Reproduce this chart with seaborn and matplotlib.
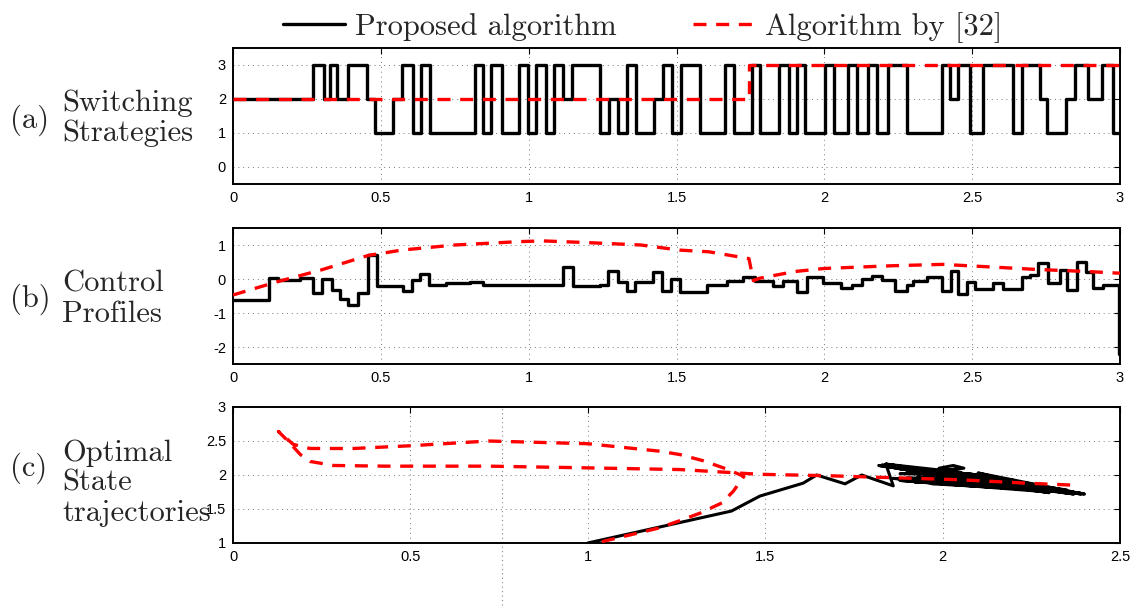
import numpy as np
import pandas as pd
import seaborn as sns
import matplotlib
matplotlib.use("Agg")
import matplotlib.pyplot as plt
from matplotlib.lines import Line2D
from matplotlib.ticker import FuncFormatter

# ---------------- data ----------------
# (a) switching strategies: switch times and active mode
sw_t = [0.000, 0.270, 0.308, 0.328, 0.353, 0.389, 0.454, 0.481, 0.542, 0.572,
        0.608, 0.635, 0.666, 0.817, 0.847, 0.871, 0.910, 0.968, 0.999, 1.025,
        1.059, 1.086, 1.117, 1.145, 1.241, 1.273, 1.303, 1.331, 1.363, 1.424,
        1.453, 1.484, 1.514, 1.579, 1.664, 1.696, 1.754, 1.784, 1.848, 1.880,
        1.906, 1.936, 2.002, 2.032, 2.081, 2.109, 2.148, 2.177, 2.216, 2.278,
        2.397, 2.425, 2.453, 2.492, 2.537, 2.639, 2.667, 2.729, 2.752, 2.819,
        2.847, 2.893, 2.938, 2.977]
sw_m = [2, 3, 2, 3, 2, 3, 2, 1, 2, 3,
        1, 3, 1, 3, 1, 3, 1, 3, 1, 3,
        1, 3, 2, 3, 1, 2, 1, 3, 1, 2,
        3, 1, 3, 1, 3, 1, 3, 1, 3, 1,
        3, 1, 3, 1, 3, 1, 3, 1, 3, 1,
        3, 2, 3, 1, 3, 1, 3, 2, 1, 2,
        3, 2, 3, 1]
sw_ref_t = [0.000, 1.746]
sw_ref_m = [2, 3]

# (b) control profiles
ctl_t = [0.000, 0.123, 0.153, 0.227, 0.270, 0.300, 0.334, 0.362, 0.390, 0.424,
         0.458, 0.486, 0.574, 0.604, 0.632, 0.664, 0.720, 0.800, 0.847, 1.117,
         1.151, 1.241, 1.269, 1.303, 1.331, 1.360, 1.421, 1.450, 1.480, 1.512,
         1.602, 1.670, 1.726, 1.765, 1.827, 1.861, 1.906, 1.940, 1.996, 2.058,
         2.092, 2.126, 2.160, 2.194, 2.239, 2.278, 2.301, 2.346, 2.397, 2.430,
         2.453, 2.481, 2.509, 2.571, 2.605, 2.667, 2.695, 2.723, 2.757, 2.797,
         2.822, 2.853, 2.885, 2.907, 2.943, 2.996]
ctl_u = [-0.62, 0.03, -0.04, 0.02, -0.40, 0.00, -0.33, -0.60, -0.75, -0.40,
         0.70, -0.20, -0.35, -0.02, 0.15, -0.17, -0.12, -0.08, -0.18, 0.35,
         -0.20, -0.17, 0.25, -0.10, -0.35, -0.10, 0.22, -0.35, 0.00, -0.37,
         -0.18, -0.06, 0.07, -0.05, -0.20, -0.06, -0.37, 0.07, -0.13, -0.27,
         -0.18, 0.00, 0.09, -0.03, -0.34, -0.18, -0.06, 0.05, -0.34, 0.24,
         -0.44, -0.08, -0.30, -0.13, -0.30, 0.07, 0.12, 0.46, -0.13, 0.26,
         -0.32, 0.51, 0.22, -0.27, -0.18, -2.20]
ctl_ref_t = [0.00, 0.15, 0.30, 0.46, 0.50, 0.57, 0.75, 0.97, 1.05, 1.20, 1.38, 1.51,
             1.61, 1.745, 1.760, 1.78, 1.90, 2.00, 2.23, 2.40, 2.55, 2.72, 2.89, 3.00]
ctl_ref_u = [-0.47, -0.08, 0.27, 0.70, 0.75, 0.85, 1.00, 1.10, 1.12, 1.07, 1.00, 0.85,
             0.80, 0.60, -0.05, 0.02, 0.22, 0.31, 0.39, 0.43, 0.36, 0.28, 0.22, 0.17]

# (c) optimal state trajectories (x1, x2)
st_x1 = [1.00, 1.405, 1.485, 1.607, 1.645, 1.725, 1.772, 1.861,
         1.84, 2.40, 1.82, 2.36, 1.87, 2.30, 1.88, 2.38, 1.90, 2.22,
         1.93, 2.34, 1.96, 2.26, 1.99, 2.03, 2.06, 2.00, 2.32, 1.92,
         2.28, 2.10, 2.36, 1.97, 2.20, 2.12, 2.35, 1.86, 2.24, 2.05,
         2.38, 1.85, 2.30, 1.95, 2.37, 2.15, 2.39,
         1.83, 2.10, 1.86, 2.20, 1.89, 2.15, 1.92, 2.39, 1.95, 2.25,
         1.98, 2.12, 1.88, 2.05, 1.84, 2.30, 1.90, 2.18, 2.02, 2.36]
st_x2 = [1.00, 1.47, 1.69, 1.88, 2.00, 1.87, 2.00, 1.84,
         2.16, 1.72, 2.14, 1.73, 2.10, 1.75, 1.92, 1.74, 2.06, 1.79,
         1.97, 1.75, 2.04, 1.77, 2.10, 2.14, 2.10, 2.07, 1.76, 1.90,
         1.80, 2.03, 1.76, 1.87, 1.86, 1.95, 1.78, 1.95, 1.83, 1.98,
         1.73, 2.12, 1.74, 2.00, 1.72, 1.90, 1.73,
         2.15, 2.00, 2.13, 1.92, 2.11, 1.95, 2.09, 1.72, 2.08, 1.87,
         2.06, 1.99, 2.02, 2.04, 2.16, 1.80, 1.96, 1.90, 1.93, 1.74]
st_ref_x1 = [1.04, 1.20, 1.26, 1.317, 1.378, 1.41, 1.44, 1.39, 1.325, 1.26, 1.203,
             1.00, 0.72, 0.50, 0.34, 0.217, 0.17, 0.128, 0.155, 0.19, 0.217, 0.283,
             0.43, 0.72, 1.00, 1.26, 1.39, 1.485, 1.673, 1.86, 2.048, 2.236, 2.372]
st_ref_x2 = [1.02, 1.22, 1.33, 1.44, 1.59, 1.76, 1.98, 2.09, 2.21, 2.30, 2.35,
             2.46, 2.50, 2.43, 2.39, 2.39, 2.45, 2.64, 2.50, 2.30, 2.20, 2.14,
             2.13, 2.13, 2.105, 2.08, 2.04, 2.01, 1.99, 1.96, 1.93, 1.88, 1.85]

legend_labels = ["Proposed algorithm", "Algorithm by [32]"]
panel_tags = ["(a)", "(b)", "(c)"]
panel_titles = ["Switching\nStrategies", "Control\nProfiles", "Optimal\nState\ntrajectories"]
stray_grid_x = 0.758   # stray dotted grid line in panel (c)

# ---------------- style ----------------
sns.set_theme(style="white")
plt.rcParams["font.family"] = ["Liberation Sans", "DejaVu Sans"]
plt.rcParams["axes.unicode_minus"] = False

W, H = 1136, 614
fig = plt.figure(figsize=(W / 100, H / 100), dpi=100)
fig.patch.set_facecolor("white")

def fx(px):
    return px / W

def fy(py):
    return 1 - py / H

left, right = 233, 1120
boxes = [(48, 184), (228, 364), (407, 543)]
axes = []
for top, bot in boxes:
    ax = fig.add_axes([fx(left), fy(bot), fx(right) - fx(left), (bot - top) / H])
    axes.append(ax)

RED = "#ff0000"
LW = 2.4
DASH = (0, (3.9, 2.9))
fmt = FuncFormatter(lambda v, p: "%g" % v)

def step_xy(t, v, end):
    return list(t) + [end], list(v) + [v[-1]]

# (a)
ax = axes[0]
x, y = step_xy(sw_t, sw_m, 3.0)
sns.lineplot(x=x, y=y, ax=ax, drawstyle="steps-post", estimator=None, sort=False,
             color="black", lw=LW, zorder=3)
x, y = step_xy(sw_ref_t, sw_ref_m, 3.0)
sns.lineplot(x=x, y=y, ax=ax, drawstyle="steps-post", estimator=None, sort=False,
             color=RED, lw=LW, linestyle=DASH, zorder=4)
ax.set_xlim(0, 3)
ax.set_ylim(-0.5, 3.5)
ax.set_yticks([0, 1, 2, 3])
ax.set_xticks(np.arange(0, 3.01, 0.5))

# (b)
ax = axes[1]
x, y = step_xy(ctl_t, ctl_u, 3.0)
sns.lineplot(x=x, y=y, ax=ax, drawstyle="steps-post", estimator=None, sort=False,
             color="black", lw=LW, zorder=3)
sns.lineplot(x=ctl_ref_t, y=ctl_ref_u, ax=ax, estimator=None, sort=False,
             color=RED, lw=LW, linestyle=DASH, zorder=4)
ax.set_xlim(0, 3)
ax.set_ylim(-2.5, 1.5)
ax.set_yticks([-2, -1, 0, 1])
ax.set_xticks(np.arange(0, 3.01, 0.5))

# (c)
ax = axes[2]
sns.lineplot(x=st_x1, y=st_x2, ax=ax, estimator=None, sort=False,
             color="black", lw=2.2, zorder=3)
sns.lineplot(x=st_ref_x1, y=st_ref_x2, ax=ax, estimator=None, sort=False,
             color=RED, lw=LW, linestyle=DASH, zorder=4)
ax.set_xlim(0, 2.5)
ax.set_ylim(1, 3)
ax.set_yticks([1, 1.5, 2, 2.5, 3])
ax.set_xticks(np.arange(0, 2.51, 0.5))
ax.axvline(stray_grid_x, ymin=-(605 - 543) / 136, ymax=1, clip_on=False,
           color="#888888", lw=0.8, linestyle=(0, (1, 3)), zorder=1)

for ax in axes:
    ax.xaxis.set_major_formatter(fmt)
    ax.yaxis.set_major_formatter(fmt)
    ax.set_xlabel("")
    ax.set_ylabel("")
    ax.grid(True, color="#777777", lw=0.7, linestyle=(0, (1, 4)))
    ax.set_axisbelow(True)
    for s in ax.spines.values():
        s.set_color("black")
        s.set_linewidth(1.4)
        s.set_visible(True)
    ax.tick_params(direction="in", length=4, width=0.8, top=True, right=True,
                   labelsize=10.5, colors="black", pad=5)
    ax.set_facecolor("white")

# panel labels
label_pos = [(120, 118), (299, 299), (468, 483)]
for tag, title, (ty, by) in zip(panel_tags, panel_titles, label_pos):
    fig.text(fx(10), fy(ty), tag, family="cmr10", fontsize=22, va="center", ha="left")
    fig.text(fx(62), fy(by), title, family="cmr10", fontsize=22, va="center",
             ha="left", linespacing=1.12)

# legend
handles = [Line2D([], [], color="black", lw=LW),
           Line2D([], [], color=RED, lw=LW, linestyle=DASH)]
fig.legend(handles, legend_labels, loc="upper center", bbox_to_anchor=(0.566, 1.025),
           ncol=2, frameon=False, prop={"family": "cmr10", "size": 22},
           handlelength=2.0, handletextpad=0.35, columnspacing=2.5)

fig.savefig("out.png", dpi=100, facecolor="white")
